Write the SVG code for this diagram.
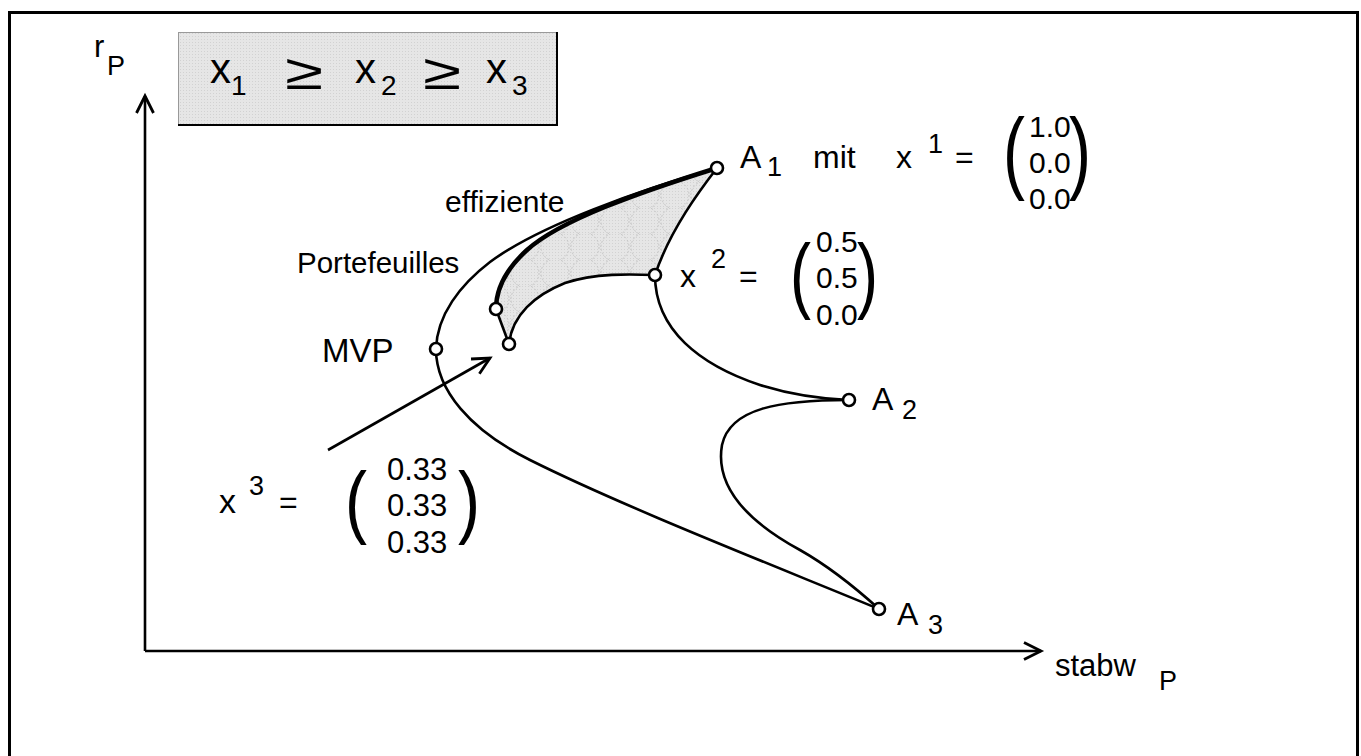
<svg xmlns="http://www.w3.org/2000/svg" width="1361" height="756" viewBox="0 0 1361 756">
<style>
text{font-family:"Liberation Sans",Arial,sans-serif;fill:#000}
.lab{font-size:32px}
.sub{font-size:27px}
.num{font-size:30px}
.crv{fill:none;stroke:#000;stroke-width:2.6;stroke-linecap:round;stroke-linejoin:round}
.thk{fill:none;stroke:#000;stroke-width:4.5;stroke-linecap:round}
.pt{fill:#fff;stroke:#000;stroke-width:2.6}
.ax{stroke:#000;stroke-width:2.6;fill:none}
</style>
<defs>
<marker id="ah" markerUnits="userSpaceOnUse" markerWidth="24" markerHeight="24" refX="20" refY="12" orient="auto" viewBox="0 0 24 24">
<polyline points="3,3.5 20,12 3,20.5" fill="none" stroke="#000" stroke-width="2.8"/>
</marker>
<pattern id="dots" width="3" height="3" patternUnits="userSpaceOnUse">
<rect width="3" height="3" fill="#e6e6e6"/>
<rect width="1" height="1" fill="#d2d2d2"/>
</pattern>
<pattern id="scallop" width="30" height="26" patternUnits="userSpaceOnUse">
<rect width="30" height="26" fill="url(#dots)"/>
<circle cx="15" cy="13" r="14" fill="none" stroke="#c4c4c4" stroke-width="1" stroke-dasharray="2 2"/>
</pattern>
</defs>
<rect id="frame" x="9.5" y="12.5" width="1348" height="760" fill="#fff" stroke="#000" stroke-width="3"/>

<g id="legend">
<rect x="178.5" y="32.5" width="378" height="92" fill="url(#dots)" stroke="#999" stroke-width="1"/>
<polyline points="557,32 557,125 178,125" fill="none" stroke="#000" stroke-width="2"/>
<text x="210" y="83" style="font-size:42px">x</text>
<text x="231" y="95" style="font-size:28px">1</text>
<text x="285" y="89" style="font-size:50px" textLength="38" lengthAdjust="spacingAndGlyphs">≥</text>
<text x="355" y="83" style="font-size:42px">x</text>
<text x="381" y="95" style="font-size:28px">2</text>
<text x="423" y="89" style="font-size:50px" textLength="38" lengthAdjust="spacingAndGlyphs">≥</text>
<text x="486" y="83" style="font-size:42px">x</text>
<text x="512" y="95" style="font-size:28px">3</text>
</g>

<g id="axes">
<line class="ax" x1="145" y1="651" x2="145" y2="96" marker-end="url(#ah)"/>
<line class="ax" x1="145" y1="651" x2="1041" y2="651" marker-end="url(#ah)"/>
<text x="94" y="57" style="font-size:31px">r</text>
<text x="107" y="75" class="sub">P</text>
<text x="1055" y="676" style="font-size:31px">stabw</text>
<text x="1159" y="690" class="sub">P</text>
</g>

<g id="shaded-region">
<path d="M717,168 C640,192 560,220 527,250 C505,270 496,290 496,309 L509,344 C512,315 535,295 565,283 C595,273 630,274 655,275 C670,230 700,190 717,168 Z" fill="url(#scallop)" stroke="none"/>
</g>

<g id="connectors">
<path id="frontier" class="crv" d="M717,168 C640,190 540,225 490,262 C460,285 437,315 436,349 C436,390 470,430 530,460 C620,505 760,560 879,609"/>
<path id="a1-x2" class="crv" d="M717,168 C700,190 670,230 655,275"/>
<path id="x2-a2" class="crv" d="M655,275 C655,330 700,365 760,385 C795,396 825,399 849,400"/>
<path id="a2-a3" class="crv" d="M849,400 C780,400 730,408 722,445 C715,485 745,520 800,550 C830,567 858,590 879,609"/>
<path id="efficient" class="thk" d="M717,168 C640,192 560,220 527,250 C505,270 496,290 496,309"/>
<path id="p1-p2" class="crv" d="M496,309 L509,344"/>
<path id="p2-x2" class="crv" d="M509,344 C512,315 535,295 565,283 C595,273 630,274 655,275"/>
<line id="pointer" class="ax" x1="328" y1="450" x2="490" y2="358" marker-end="url(#ah)"/>
</g>

<g id="node-A1">
<circle class="pt" cx="717" cy="168" r="6"/>
<text x="740" y="168" class="lab">A</text>
<text x="767" y="176" class="sub">1</text>
<text x="813" y="168" class="lab">mit</text>
<text x="896" y="168" class="lab">x</text>
<text x="928" y="153" class="sub">1</text>
<text x="955" y="168" class="lab">=</text>
<text x="1003" y="182" style="font-size:90px" textLength="22" lengthAdjust="spacingAndGlyphs">(</text>
<text x="1029" y="137" class="num">1.0</text>
<text x="1029" y="173" class="num">0.0</text>
<text x="1029" y="209" class="num">0.0</text>
<text x="1069" y="182" style="font-size:90px" textLength="22" lengthAdjust="spacingAndGlyphs">)</text>
</g>

<g id="node-x2">
<circle class="pt" cx="655" cy="275" r="6"/>
<text x="680" y="287" class="lab">x</text>
<text x="711" y="268" class="sub">2</text>
<text x="739" y="287" class="lab">=</text>
<text x="790" y="303" style="font-size:84px" textLength="21" lengthAdjust="spacingAndGlyphs">(</text>
<text x="816" y="252" class="num">0.5</text>
<text x="816" y="288" class="num">0.5</text>
<text x="816" y="325" class="num">0.0</text>
<text x="857" y="303" style="font-size:84px" textLength="21" lengthAdjust="spacingAndGlyphs">)</text>
</g>

<g id="node-A2">
<circle class="pt" cx="849" cy="400" r="6"/>
<text x="872" y="410" class="lab">A</text>
<text x="902" y="419" class="sub">2</text>
</g>

<g id="node-A3">
<circle class="pt" cx="879" cy="609" r="6"/>
<text x="897" y="625" class="lab">A</text>
<text x="928" y="634" class="sub">3</text>
</g>

<g id="node-MVP">
<circle class="pt" cx="436" cy="349" r="6"/>
<text x="322" y="362" style="font-size:33px">MVP</text>
</g>

<g id="node-P1"><circle class="pt" cx="496" cy="309" r="6"/></g>
<g id="node-P2"><circle class="pt" cx="509" cy="344" r="6"/></g>

<g id="labels">
<text x="445" y="212" style="font-size:30px">effiziente</text>
<text x="297" y="273" style="font-size:29.5px">Portefeuilles</text>
</g>

<g id="node-x3">
<text x="219" y="513" style="font-size:34px">x</text>
<text x="249" y="495" class="sub">3</text>
<text x="279" y="513" class="lab">=</text>
<text x="345" y="528" style="font-size:80px" textLength="22" lengthAdjust="spacingAndGlyphs">(</text>
<text x="387" y="480" style="font-size:31px">0.33</text>
<text x="387" y="516" style="font-size:31px">0.33</text>
<text x="387" y="553" style="font-size:31px">0.33</text>
<text x="458" y="528" style="font-size:80px" textLength="22" lengthAdjust="spacingAndGlyphs">)</text>
</g>
</svg>
